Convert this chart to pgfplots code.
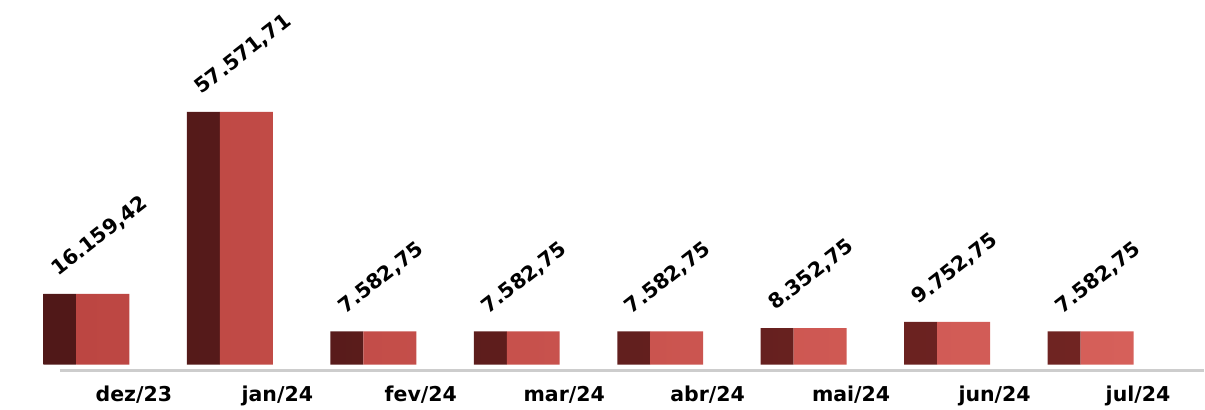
\documentclass[border=0pt]{standalone}
\usepackage{pgfplots}
\pgfplotsset{compat=1.18}
\usepackage{pgfplotstable}
\usepackage{fontspec}
\setmainfont{DejaVu Sans}
\definecolor{sidedark}{RGB}{80,24,24}
\definecolor{sidelight}{RGB}{112,36,34}
\definecolor{frontdark}{RGB}{188,70,66}
\definecolor{frontlight}{RGB}{214,96,90}
\definecolor{floorgray}{RGB}{205,205,205}
\pgfplotstableread{
x y label
0 16159.42 16.159,42
1 57571.71 57.571,71
2 7582.75 7.582,75
3 7582.75 7.582,75
4 7582.75 7.582,75
5 8352.75 8.352,75
6 9752.75 9.752,75
7 7582.75 7.582,75
}\datatable
\begin{document}
\begin{tikzpicture}
\begin{axis}[
  scale only axis,
  width=1205bp, height=405bp,
  xmin=-0.6024, xmax=7.789,
  ymin=-9102, ymax=83056,
  clip=false,
  axis line style={draw=none},
  major tick length=0pt,
  ytick=\empty,
  xtick={0,...,7},
  xticklabels={dez/23,jan/24,fev/24,mar/24,abr/24,mai/24,jun/24,jul/24},
  x tick label style={font=\fontsize{20.5bp}{24bp}\selectfont\bfseries, anchor=base, yshift=3bp, xshift=47.5bp},
]
\path (rel axis cs:0,0) rectangle (rel axis cs:1,1);
\addplot[draw=floorgray, line width=2.5bp] coordinates {(-0.185,-1365) (7.789,-1365)};
\addplot[ybar, bar width=33bp, bar shift=-26.5bp, draw=none, left color=sidedark, right color=sidelight]
  table[x=x, y=y] {\datatable};
\addplot[ybar, bar width=53bp, bar shift=16.5bp, draw=none, left color=frontdark, right color=frontlight,
  point meta=explicit symbolic,
  nodes near coords,
  nodes near coords style={font=\fontsize{20.5bp}{24bp}\selectfont\bfseries, text=black, inner sep=0pt,
    xshift=-28.5bp, yshift=17bp, rotate=38, anchor=base west}]
  table[x=x, y=y, meta=label] {\datatable};
\end{axis}
\end{tikzpicture}
\end{document}
